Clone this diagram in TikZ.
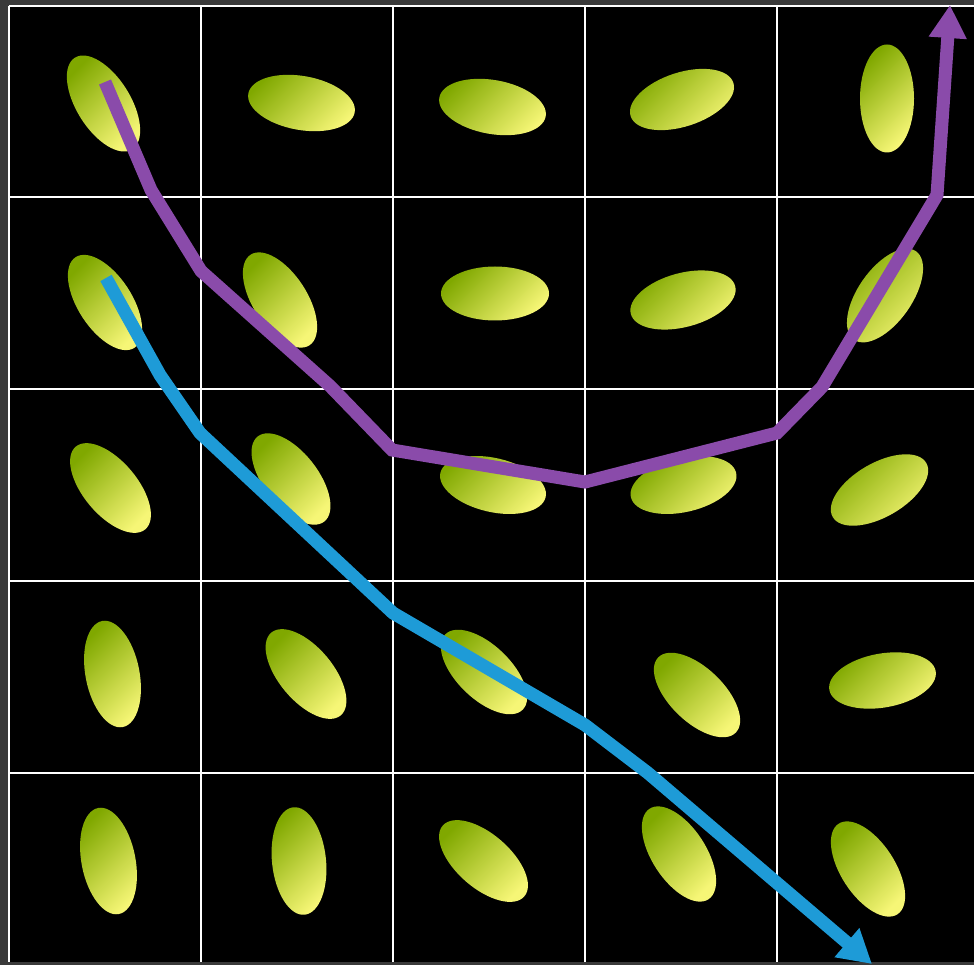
\documentclass[tikz,border=0pt]{standalone}
\usetikzlibrary{arrows.meta}
\definecolor{bggray}{RGB}{58,58,58}
\definecolor{leafgreen}{RGB}{128,168,0}
\definecolor{leafyellow}{RGB}{246,246,118}
\definecolor{pathpurple}{RGB}{138,75,170}
\definecolor{pathblue}{RGB}{30,155,215}
\tikzset{
  gridline/.style={white,line width=2pt},
  leaf/.style={top color=leafgreen,bottom color=leafyellow,shading angle=45},
  route/.style={line width=13pt,line cap=butt,line join=miter,-{Triangle[length=33pt,width=36pt]}}
}
\newcommand{\leafat}[3]{\shade[leaf] (#1,#2) ellipse [x radius=54, y radius=27, rotate=#3];}
\begin{document}
\begin{tikzpicture}[x=1pt,y=-1pt]
\useasboundingbox (0,0) rectangle (974,965);
\fill[bggray] (0,0) rectangle (974,965);
\fill[black] (9,6) rectangle (974,962);
\foreach \x in {9,201,393,585,777} \draw[gridline] (\x,6) -- (\x,962);
\foreach \y in {6,197,389,581,773} \draw[gridline] (9,\y) -- (974,\y);
% row 1
\leafat{103.5}{103.5}{-58}
\leafat{301.5}{103}{-10}
\leafat{492.5}{107}{-10}
\leafat{682}{99.5}{18}
\leafat{887}{98.5}{90}
% row 2
\leafat{105}{302.5}{-57}
\leafat{280}{300}{-57}
\leafat{495}{293.5}{0}
\leafat{683}{300}{15}
\leafat{885}{295.5}{55}
% row 3
\leafat{110.5}{488}{-50}
\leafat{291}{479}{-52}
\leafat{493}{485}{-13}
\leafat{683.5}{485}{13}
\leafat{879.5}{490}{30}
% row 4
\leafat{112.5}{674}{-79}
\leafat{306}{674}{-50}
\leafat{484}{672}{-44}
\leafat{697}{695}{-44}
\leafat{882.5}{680.5}{10}
% row 5
\leafat{108.5}{861}{-79}
\leafat{299}{861}{-84}
\leafat{483.5}{861}{-41}
\leafat{679}{854}{-57}
\leafat{868}{869}{-57}
% routes
\coordinate (p0) at (105,82);
\coordinate (p1) at (151,190);
\coordinate (p2) at (201,271);
\coordinate (p3) at (330,386);
\coordinate (p4) at (392,450);
\coordinate (p5) at (585,482);
\coordinate (p6) at (777,433);
\coordinate (p7) at (822,387);
\coordinate (p8) at (937,195);
\coordinate (p9) at (950,5);
\draw[route,pathpurple] (p0) -- (p1) -- (p2) -- (p3) -- (p4) -- (p5) -- (p6) -- (p7) -- (p8) -- (p9);
\coordinate (b0) at (106,278);
\coordinate (b1) at (160,375);
\coordinate (b2) at (200,433);
\coordinate (b3) at (393,613);
\coordinate (b4) at (585,725);
\coordinate (b5) at (648,773);
\coordinate (b6) at (872,964);
\draw[route,pathblue] (b0) -- (b1) -- (b2) -- (b3) -- (b4) -- (b5) -- (b6);
\end{tikzpicture}
\end{document}
